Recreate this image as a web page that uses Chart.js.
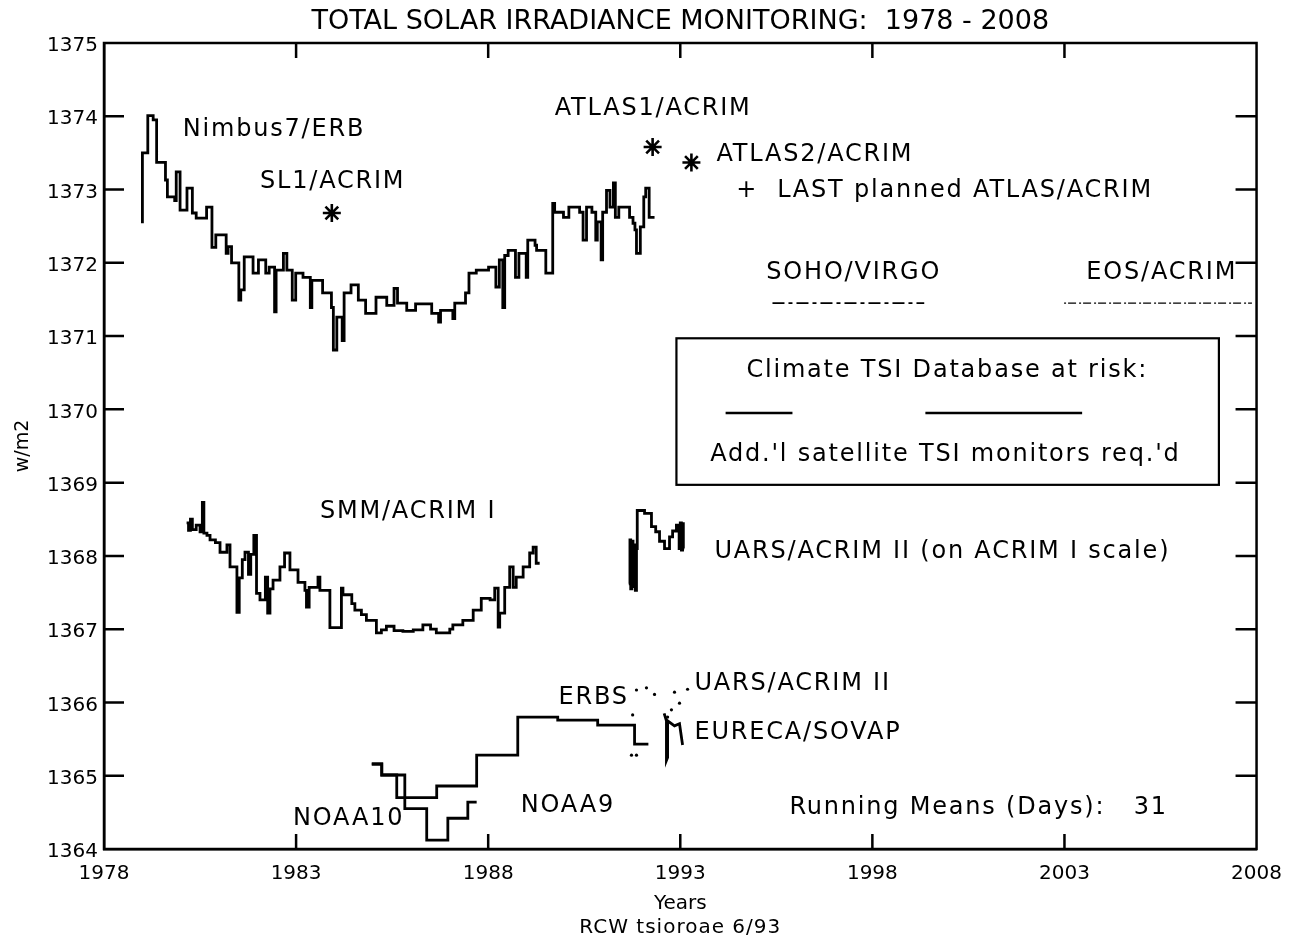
<!DOCTYPE html>
<html>
<head>
<meta charset="utf-8">
<title>Total Solar Irradiance Monitoring 1978 - 2008</title>
<script src="https://cdn.jsdelivr.net/npm/chart.js@4.4.1/dist/chart.umd.min.js"></script>
<style>
  html, body { margin: 0; padding: 0; background: #fff; }
</style>
</head>
<body>
<canvas id="tsi" width="1295" height="942"></canvas>
<script>
// tick values
const yearTicks = [1978, 1983, 1988, 1993, 1998, 2003, 2008];
const wm2Min = 1364, wm2Max = 1375;

// Nimbus7/ERB (31 day running means), step starts
const nimbusYears = [1979.00, 1979.00, 1979.14, 1979.28, 1979.37, 1979.60, 1979.65, 1979.84, 1979.88, 1979.98,
  1980.16, 1980.30, 1980.40, 1980.67, 1980.81, 1980.91, 1981.18, 1981.23, 1981.32, 1981.51,
  1981.56, 1981.65, 1981.88, 1982.02, 1982.21, 1982.30, 1982.44, 1982.48, 1982.67, 1982.76,
  1982.90, 1982.99, 1983.18, 1983.37, 1983.41, 1983.69, 1983.92, 1983.97, 1984.06, 1984.20,
  1984.25, 1984.43, 1984.62, 1984.81, 1985.08, 1985.36, 1985.55, 1985.64, 1985.88, 1986.11,
  1986.53, 1986.71, 1986.76, 1987.08, 1987.13, 1987.41, 1987.50, 1987.69, 1988.01, 1988.20,
  1988.29, 1988.38, 1988.43, 1988.52, 1988.71, 1988.80, 1988.99, 1989.03, 1989.22, 1989.26,
  1989.50, 1989.68, 1989.73, 1989.96, 1990.10, 1990.38, 1990.47, 1990.56, 1990.70, 1990.80,
  1990.84, 1990.94, 1990.98, 1991.08, 1991.17, 1991.26, 1991.31, 1991.40, 1991.68, 1991.77,
  1991.82, 1991.86, 1991.96, 1992.05, 1992.10, 1992.19, 1992.33];
const nimbusValues = [1372.54, 1373.50, 1374.01, 1373.95, 1373.37, 1373.13, 1372.90, 1372.85, 1373.24, 1372.72,
  1373.02, 1372.68, 1372.61, 1372.76, 1372.21, 1372.38, 1372.13, 1372.22, 1372.00, 1371.49,
  1371.63, 1372.08, 1371.86, 1372.04, 1371.86, 1371.94, 1371.33, 1371.90, 1372.13, 1371.90,
  1371.49, 1371.86, 1371.80, 1371.39, 1371.76, 1371.59, 1371.39, 1370.81, 1371.26, 1370.94,
  1371.59, 1371.70, 1371.49, 1371.31, 1371.53, 1371.42, 1371.65, 1371.45, 1371.35, 1371.44,
  1371.31, 1371.19, 1371.35, 1371.24, 1371.45, 1371.59, 1371.86, 1371.90, 1371.94, 1371.67,
  1372.04, 1371.39, 1372.10, 1372.17, 1371.80, 1372.13, 1371.80, 1372.31, 1372.24, 1372.17,
  1371.86, 1372.81, 1372.69, 1372.62, 1372.76, 1372.69, 1372.31, 1372.76, 1372.69, 1372.31,
  1372.56, 1372.04, 1372.69, 1372.99, 1372.76, 1373.09, 1372.62, 1372.76, 1372.62, 1372.54,
  1372.45, 1372.13, 1372.49, 1372.90, 1373.02, 1372.62, 1372.62];

// SMM/ACRIM I
const smmYears = [1980.15, 1980.20, 1980.25, 1980.30, 1980.40, 1980.50, 1980.56, 1980.60, 1980.68, 1980.76,
  1980.90, 1981.02, 1981.20, 1981.28, 1981.46, 1981.52, 1981.60, 1981.67, 1981.76, 1981.82,
  1981.90, 1981.97, 1982.06, 1982.20, 1982.26, 1982.32, 1982.40, 1982.58, 1982.70, 1982.84,
  1983.05, 1983.23, 1983.27, 1983.34, 1983.57, 1983.62, 1983.88, 1984.18, 1984.22, 1984.45,
  1984.53, 1984.70, 1984.83, 1985.09, 1985.22, 1985.35, 1985.55, 1985.78, 1986.05, 1986.30,
  1986.50, 1986.65, 1987.00, 1987.08, 1987.34, 1987.61, 1987.82, 1988.05, 1988.17, 1988.26,
  1988.30, 1988.43, 1988.56, 1988.65, 1988.73, 1988.91, 1989.08, 1989.17, 1989.25, 1989.34];
const smmValues = [1368.45, 1368.35, 1368.50, 1368.36, 1368.42, 1368.33, 1368.73, 1368.31, 1368.28, 1368.22,
  1368.18, 1368.05, 1368.15, 1367.85, 1367.23, 1367.70, 1367.95, 1368.05, 1367.75, 1368.02,
  1368.28, 1367.49, 1367.40, 1367.71, 1367.22, 1367.55, 1367.67, 1367.85, 1368.04, 1367.81,
  1367.64, 1367.53, 1367.30, 1367.57, 1367.71, 1367.53, 1367.02, 1367.56, 1367.47, 1367.35,
  1367.26, 1367.20, 1367.12, 1366.95, 1366.99, 1367.04, 1366.98, 1366.97, 1366.99, 1367.06,
  1367.00, 1366.95, 1367.00, 1367.06, 1367.12, 1367.26, 1367.42, 1367.40, 1367.56, 1367.03,
  1367.22, 1367.57, 1367.85, 1367.57, 1367.71, 1367.85, 1368.04, 1368.12, 1367.90, 1367.90];

// UARS/ACRIM II on ACRIM I scale
const uarsYears = [1991.66, 1991.69, 1991.71, 1991.74, 1991.77, 1991.80, 1991.83, 1991.86, 1991.88, 1992.07,
  1992.25, 1992.36, 1992.46, 1992.59, 1992.72, 1992.80, 1992.90, 1992.97, 1993.00, 1993.03,
  1993.06, 1993.08, 1993.10];
const uarsValues = [1367.62, 1368.22, 1367.55, 1368.20, 1367.58, 1368.15, 1367.53, 1368.10, 1368.62, 1368.58,
  1368.40, 1368.33, 1368.20, 1368.10, 1368.26, 1368.34, 1368.42, 1368.10, 1368.45, 1368.08,
  1368.44, 1368.10, 1368.10];

// UARS/ACRIM II native scale (sparse dots)
const uarsLowYears = [1991.73, 1991.86, 1991.76, 1991.86, 1992.12, 1992.33, 1992.67, 1992.77, 1992.85, 1992.98, 1993.19];
const uarsLowValues = [1365.28, 1365.28, 1365.83, 1366.17, 1366.20, 1366.11, 1365.80, 1365.90, 1366.14, 1365.99, 1366.18];

// ERBS
const erbsYears = [1984.97, 1985.23, 1985.62, 1986.66, 1987.70, 1988.77, 1989.81, 1990.85, 1991.81, 1992.17];
const erbsValues = [1365.16, 1365.01, 1364.70, 1364.86, 1365.28, 1365.80, 1365.76, 1365.69, 1365.43, 1365.43];

// NOAA9 / NOAA10
const noaaYears = [1984.97, 1985.23, 1985.83, 1986.40, 1986.95, 1987.47, 1987.70];
const noaaValues = [1365.16, 1365.01, 1364.55, 1364.12, 1364.42, 1364.64, 1364.64];

// EURECA/SOVAP
const eurecaYears = [1992.58, 1992.64, 1992.64, 1992.67, 1992.67, 1992.85, 1992.98, 1993.06];
const eurecaValues = [1365.85, 1365.75, 1365.21, 1365.25, 1365.75, 1365.68, 1365.71, 1365.42];

// single shuttle flights (asterisks)
const shuttleYears = [1983.93, 1992.28, 1993.29];
const shuttleValues = [1372.68, 1373.58, 1373.37];

// planned missions and gaps
const sohoYears = [1995.40, 1999.35];
const sohoValues = [1371.45, 1371.45];
const eosYears = [2002.99, 2007.88];
const eosValues = [1371.45, 1371.45];
const gap1Years = [1994.18, 1995.92];
const gap2Years = [1999.38, 2003.46];
const gapValues = [1369.95, 1369.95];

// "at risk" box corners
const riskBoxYears = [1992.90, 2007.02];
const riskBoxValues = [1370.97, 1368.97];

const FONT = "'DejaVu Sans', 'Liberation Sans', sans-serif";
const TITLE = "TOTAL SOLAR IRRADIANCE MONITORING:  1978 - 2008";
const CREDIT = "RCW tsioroae 6/93";

// text annotations, placed in data units
const notes = [
  { text: "Nimbus7/ERB", x: 1980.05, y: 1373.81 },
  { text: "SL1/ACRIM", x: 1982.06, y: 1373.11 },
  { text: "ATLAS1/ACRIM", x: 1989.73, y: 1374.10 },
  { text: "ATLAS2/ACRIM", x: 1993.94, y: 1373.47 },
  { text: "+  LAST planned ATLAS/ACRIM", x: 1994.46, y: 1372.98 },
  { text: "SOHO/VIRGO", x: 1995.24, y: 1371.87 },
  { text: "EOS/ACRIM", x: 2003.57, y: 1371.87 },
  { text: "Climate TSI Database at risk:", x: 1999.95, y: 1370.53, align: "center" },
  { text: "Add.'l satellite TSI monitors req.'d", x: 1999.90, y: 1369.38, align: "center" },
  { text: "SMM/ACRIM I", x: 1983.62, y: 1368.60 },
  { text: "UARS/ACRIM II (on ACRIM I scale)", x: 1993.89, y: 1368.05 },
  { text: "UARS/ACRIM II", x: 1993.37, y: 1366.26 },
  { text: "ERBS", x: 1989.83, y: 1366.07 },
  { text: "EURECA/SOVAP", x: 1993.37, y: 1365.58 },
  { text: "NOAA9", x: 1988.85, y: 1364.59 },
  { text: "NOAA10", x: 1982.92, y: 1364.41 },
  { text: "Running Means (Days):   31", x: 1995.84, y: 1364.56 }
];

function pts(xs, ys) {
  return xs.map((x, i) => ({ x: x, y: ys[i] }));
}

function stepLine(label, xs, ys) {
  return {
    label: label,
    data: pts(xs, ys),
    stepped: "before",
    borderColor: "#000",
    borderWidth: 2.8,
    pointRadius: 0,
    fill: false
  };
}

function flatLine(label, xs, ys, dash, width) {
  return {
    label: label,
    data: pts(xs, ys),
    borderColor: "#000",
    borderWidth: width,
    borderDash: dash,
    pointRadius: 0,
    fill: false
  };
}

const framePlugin = {
  id: "frame",
  afterDraw(chart) {
    const ctx = chart.ctx;
    const xs = chart.scales.x, ys = chart.scales.y;
    const a = chart.chartArea;
    const mid = (a.left + a.right) / 2;
    ctx.save();
    ctx.strokeStyle = "#000";
    ctx.lineWidth = 2.5;
    ctx.strokeRect(a.left, a.top, a.right - a.left, a.bottom - a.top);

    // inward tick marks on all four sides
    ctx.beginPath();
    for (let v = wm2Min + 1; v < wm2Max; v++) {
      const py = ys.getPixelForValue(v);
      ctx.moveTo(a.left, py); ctx.lineTo(a.left + 20, py);
      ctx.moveTo(a.right - 21, py); ctx.lineTo(a.right, py);
    }
    yearTicks.slice(1, -1).forEach(function (yr) {
      const px = xs.getPixelForValue(yr);
      ctx.moveTo(px, a.bottom); ctx.lineTo(px, a.bottom - 15);
      ctx.moveTo(px, a.top); ctx.lineTo(px, a.top + 15);
    });
    ctx.stroke();

    // climate database box
    const bx0 = xs.getPixelForValue(riskBoxYears[0]);
    const bx1 = xs.getPixelForValue(riskBoxYears[1]);
    const by0 = ys.getPixelForValue(riskBoxValues[0]);
    const by1 = ys.getPixelForValue(riskBoxValues[1]);
    ctx.lineWidth = 2.2;
    ctx.strokeRect(bx0, by0, bx1 - bx0, by1 - by0);

    ctx.fillStyle = "#000";
    ctx.textBaseline = "middle";

    // title and credit line, centred on the plot box
    ctx.textAlign = "center";
    ctx.font = "27px " + FONT;
    ctx.letterSpacing = "0px";
    ctx.fillText(TITLE, mid, 22);
    ctx.font = "20px " + FONT;
    ctx.letterSpacing = "1px";
    ctx.fillText(CREDIT, mid, 928);

    // labels
    ctx.font = "24px " + FONT;
    ctx.letterSpacing = "1.8px";
    notes.forEach(function (n) {
      ctx.textAlign = n.align || "left";
      ctx.fillText(n.text, xs.getPixelForValue(n.x), ys.getPixelForValue(n.y));
    });
    ctx.restore();
  }
};

new Chart(document.getElementById("tsi"), {
  type: "line",
  data: {
    datasets: [
      stepLine("Nimbus7/ERB", nimbusYears, nimbusValues),
      stepLine("SMM/ACRIM I", smmYears, smmValues),
      stepLine("UARS/ACRIM II (on ACRIM I scale)", uarsYears, uarsValues),
      stepLine("ERBS", erbsYears, erbsValues),
      stepLine("NOAA9/NOAA10", noaaYears, noaaValues),
      flatLine("EURECA/SOVAP", eurecaYears, eurecaValues, [], 2.8),
      {
        label: "UARS/ACRIM II",
        data: pts(uarsLowYears, uarsLowValues),
        showLine: false,
        pointRadius: 1.6,
        pointBackgroundColor: "#000",
        pointBorderWidth: 0
      },
      {
        label: "Shuttle ACRIM",
        data: pts(shuttleYears, shuttleValues),
        showLine: false,
        pointStyle: "star",
        pointRadius: 9,
        pointBorderColor: "#000",
        pointBorderWidth: 2.6
      },
      flatLine("SOHO/VIRGO", sohoYears, sohoValues, [12, 4, 4, 4], 1.8),
      flatLine("EOS/ACRIM", eosYears, eosValues, [2, 2, 8, 3], 1.4),
      flatLine("gap 1", gap1Years, gapValues, [], 2.6),
      flatLine("gap 2", gap2Years, gapValues, [], 2.6)
    ]
  },
  options: {
    responsive: false,
    animation: false,
    devicePixelRatio: 1,
    layout: { padding: { left: 0, right: 38, top: 43, bottom: 23 } },
    plugins: {
      legend: { display: false },
      tooltip: { enabled: false },
      title: { display: false }
    },
    scales: {
      x: {
        type: "linear",
        min: 1978,
        max: 2008,
        afterBuildTicks: function (s) { s.ticks = yearTicks.map(v => ({ value: v })); },
        afterFit: function (s) { s.height = 70; },
        grid: { display: false, drawTicks: false },
        border: { display: true, color: "#000", width: 2.5 },
        ticks: {
          color: "#000",
          padding: 13,
          maxRotation: 0,
          font: { family: FONT, size: 20 },
          callback: v => String(v)
        },
        title: {
          display: true,
          text: "Years",
          color: "#000",
          font: { family: FONT, size: 20 },
          padding: { top: 0, bottom: 3 }
        }
      },
      y: {
        min: wm2Min,
        max: wm2Max,
        afterFit: function (s) { s.width = 104; },
        grid: { display: false, drawTicks: false },
        border: { display: true, color: "#000", width: 2.5 },
        ticks: {
          stepSize: 1,
          color: "#000",
          padding: 6,
          labelOffset: 3,
          font: { family: FONT, size: 20 },
          callback: v => String(v)
        },
        title: {
          display: true,
          text: "w/m2",
          color: "#000",
          font: { family: FONT, size: 19 },
          padding: { top: 12, bottom: 0 }
        }
      }
    }
  },
  plugins: [framePlugin]
});
</script>
</body>
</html>
